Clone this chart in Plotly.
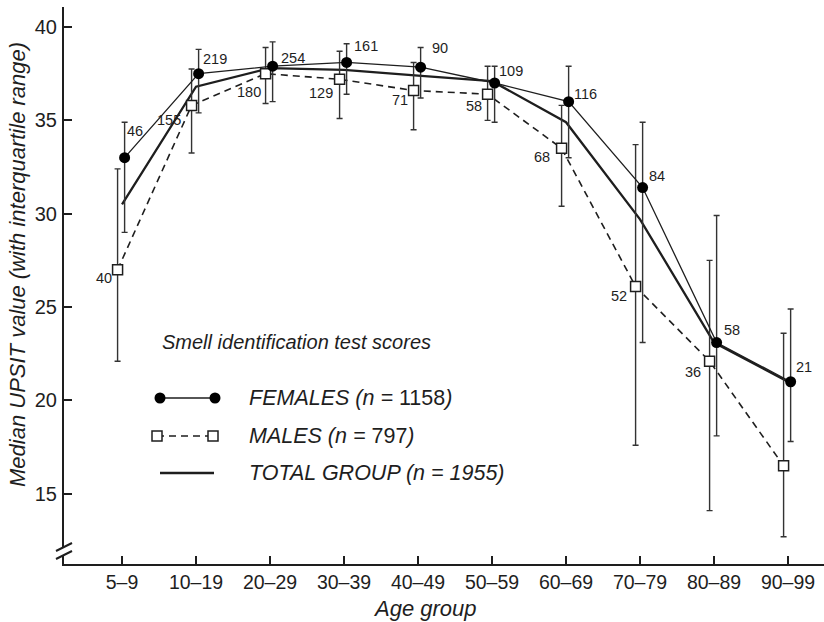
import plotly.graph_objects as go

# ---------------- data ----------------
age_groups = ['5–9', '10–19', '20–29', '30–39', '40–49', '50–59', '60–69', '70–79', '80–89', '90–99']

female_median = [33.0, 37.5, 37.9, 38.1, 37.85, 37.0, 36.0, 31.4, 23.1, 21.0]
female_q1 = [29.0, 35.4, 36.0, 36.4, 36.2, 34.9, 33.0, 23.1, 18.1, 17.8]
female_q3 = [34.9, 38.8, 39.2, 39.1, 38.9, 37.9, 37.9, 34.9, 29.9, 24.9]
female_n = [46, 219, 254, 161, 90, 109, 116, 84, 58, 21]

male_median = [27.0, 35.8, 37.5, 37.2, 36.6, 36.4, 33.5, 26.1, 22.1, 16.5]
male_q1 = [22.1, 33.25, 35.9, 35.1, 34.5, 35.0, 30.4, 17.6, 14.1, 12.7]
male_q3 = [32.4, 37.75, 38.9, 38.7, 38.1, 37.9, 35.8, 33.7, 27.5, 23.6]
male_n = [40, 155, 180, 129, 71, 58, 68, 52, 36, None]

total_median = [30.5, 36.8, 37.8, 37.7, 37.4, 37.1, 34.9, 29.7, 23.1, 21.0]

y_ticks = [15, 20, 25, 30, 35, 40]

legend_title = 'Smell identification test scores'
legend_labels = ['<i>FEMALES (n = </i>1158<i>)</i>', '<i>MALES (n = </i>797<i>)</i>', '<i>TOTAL GROUP (n = 1955)</i>']
x_title = 'Age group'
y_title = 'Median UPSIT value (with interquartile range)'

# ---------------- styling ----------------
FONT = 'Liberation Sans, Arial, Helvetica, sans-serif'
INK = '#1e1e1e'
W, H = 824, 622
L, R, T, B = 64, 0, 7, 58

idx = list(range(len(age_groups)))
f_x = [i + 0.035 for i in idx]
m_x = [i - 0.06 for i in idx]

fig = go.Figure()

# total group line
fig.add_trace(go.Scatter(
    x=idx, y=total_median, mode='lines',
    line=dict(color=INK, width=2.3), showlegend=False, hoverinfo='skip'))

# males
fig.add_trace(go.Scatter(
    x=m_x, y=male_median, mode='lines+markers',
    line=dict(color=INK, width=1.6, dash='7px,5px'),
    marker=dict(symbol='square', size=10, color='white', line=dict(color=INK, width=1.5)),
    error_y=dict(type='data', symmetric=False,
                 array=[q3 - m for q3, m in zip(male_q3, male_median)],
                 arrayminus=[m - q1 for q1, m in zip(male_q1, male_median)],
                 color='#333333', thickness=1.4, width=3),
    showlegend=False))

# females
fig.add_trace(go.Scatter(
    x=f_x, y=female_median, mode='lines+markers',
    line=dict(color=INK, width=1.3),
    marker=dict(symbol='circle', size=11, color='black', line=dict(width=0)),
    error_y=dict(type='data', symmetric=False,
                 array=[q3 - m for q3, m in zip(female_q3, female_median)],
                 arrayminus=[m - q1 for q1, m in zip(female_q1, female_median)],
                 color='#333333', thickness=1.4, width=3),
    showlegend=False))

annotations = []
# sample-size labels (pixel offsets from the marker)
f_off = [(10, -27), (16, -15), (20, -8), (19, -16), (19, -19), (16, -12), (17, -8), (14, -12), (15, -13), (13, -15)]
m_off = [(-14, 8), (-23, 15), (-17, 18), (-19, 14), (-14, 10), (-14, 12), (-20, 9), (-17, 9), (-17, 11), (0, 0)]
for x, y, n, (dx, dy) in zip(f_x, female_median, female_n, f_off):
    annotations.append(dict(x=x, y=y, xref='x', yref='y', text=str(n), showarrow=False,
                            xshift=dx, yshift=-dy, font=dict(family=FONT, size=14.5, color=INK)))
for x, y, n, (dx, dy) in zip(m_x, male_median, male_n, m_off):
    if n is None:
        continue
    annotations.append(dict(x=x, y=y, xref='x', yref='y', text=str(n), showarrow=False,
                            xshift=dx, yshift=-dy, font=dict(family=FONT, size=14.5, color=INK)))

def px(p):
    return (p - L) / (W - L - R)

def py(p):
    return (H - B - p) / (H - T - B)

# axis titles
annotations.append(dict(x=px(425), y=py(608), xref='paper', yref='paper', text='<i>%s</i>' % x_title,
                        showarrow=False, xanchor='center', yanchor='middle',
                        font=dict(family=FONT, size=22, color=INK)))
annotations.append(dict(x=px(17), y=py(265), xref='paper', yref='paper', text='<i>%s</i>' % y_title,
                        showarrow=False, xanchor='center', yanchor='middle', textangle=-90,
                        font=dict(family=FONT, size=22, color=INK)))

# legend (drawn manually)
annotations.append(dict(x=px(160), y=py(342), xref='paper', yref='paper', text='<i>%s</i>' % legend_title,
                        showarrow=False, xanchor='left', yanchor='middle',
                        font=dict(family=FONT, size=20, color=INK)))
leg_y = [398, 436, 473]
for lbl, yy in zip(legend_labels, leg_y):
    annotations.append(dict(x=px(247), y=py(yy), xref='paper', yref='paper', text=lbl,
                            showarrow=False, xanchor='left', yanchor='middle',
                            font=dict(family=FONT, size=21.5, color=INK)))

shapes = []
# females sample
shapes.append(dict(type='line', xref='paper', yref='paper', x0=px(160), x1=px(215), y0=py(398), y1=py(398),
                   line=dict(color=INK, width=1.3)))
for xx in (160, 215):
    shapes.append(dict(type='circle', xref='paper', yref='paper', xsizemode='pixel', ysizemode='pixel',
                       xanchor=px(xx), yanchor=py(398), x0=-5.5, x1=5.5, y0=-5.5, y1=5.5,
                       fillcolor='black', line=dict(width=0)))
# males sample
shapes.append(dict(type='line', xref='paper', yref='paper', x0=px(157), x1=px(213), y0=py(436), y1=py(436),
                   line=dict(color=INK, width=1.6, dash='7px,5px')))
for xx in (157, 213):
    shapes.append(dict(type='rect', xref='paper', yref='paper', xsizemode='pixel', ysizemode='pixel',
                       xanchor=px(xx), yanchor=py(436), x0=-5, x1=5, y0=-5, y1=5,
                       fillcolor='white', line=dict(color=INK, width=1.5)))
# total sample
shapes.append(dict(type='line', xref='paper', yref='paper', x0=px(160), x1=px(214), y0=py(473), y1=py(473),
                   line=dict(color=INK, width=2.3)))

# y-axis break marks
shapes.append(dict(type='line', xref='paper', yref='paper', x0=px(L), x1=px(L), y0=py(547), y1=py(555),
                   line=dict(color='white', width=4)))
for yy in (547, 555):
    shapes.append(dict(type='line', xref='paper', yref='paper', x0=px(L - 8), x1=px(L + 8),
                       y0=py(yy + 4), y1=py(yy - 4), line=dict(color=INK, width=2)))

fig.update_layout(
    width=W, height=H,
    margin=dict(l=L, r=R, t=T, b=B, pad=0),
    paper_bgcolor='white', plot_bgcolor='white',
    font=dict(family=FONT, color=INK),
    showlegend=False,
    annotations=annotations,
    shapes=shapes,
    xaxis=dict(range=[-0.784, 9.486], tickmode='array', tickvals=idx, ticktext=age_groups,
               showgrid=False, zeroline=False, showline=True, linecolor=INK, linewidth=2,
               ticks='inside', ticklen=8, tickwidth=2, tickcolor=INK,
               tickfont=dict(family=FONT, size=19.5, color=INK), ticklabelstandoff=0),
    yaxis=dict(range=[11.24, 41.07], tickmode='array', tickvals=y_ticks,
               showgrid=False, zeroline=False, showline=True, linecolor=INK, linewidth=2,
               ticks='inside', ticklen=8, tickwidth=2, tickcolor=INK,
               tickfont=dict(family=FONT, size=20, color=INK), ticklabelstandoff=1),
)

fig.write_html('out.html')
